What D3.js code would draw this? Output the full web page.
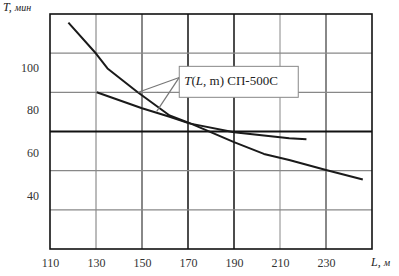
<!DOCTYPE html>
<html>
<head>
<meta charset="utf-8">
<script src="https://cdn.jsdelivr.net/npm/d3@7"></script>
<style>
  body { margin: 0; background: #fff; }
  svg { display: block; }
  .tick text { font-family: "Liberation Serif", serif; font-size: 12px; fill: #333; }
</style>
</head>
<body>
<script>
// Chart values
const xTicks = [110, 130, 150, 170, 190, 210, 230];
const yTicks = [40, 60, 80, 100];

// Steeper curve
const steepL = [118, 130, 135, 148, 162, 170.5, 190, 203, 214, 230, 246];
const steepT = [121, 106.5, 99.5, 88.5, 77.5, 74, 65, 59.5, 56.7, 52, 47.5];

// Flatter curve
const flatL = [130.3, 150, 162, 170.5, 190, 214, 221.5];
const flatT = [88.4, 80.9, 76.9, 73.8, 69.6, 66.8, 66.4];

const labelText = "СП-500С";

// SVG dimensions
const width = 399, height = 276;
const padL = 50, padR = 372, padT = 14, padB = 249;

const svg = d3.select("body").append("svg")
    .attr("width", width)
    .attr("height", height);

const x = d3.scaleLinear().domain([110, 250]).range([padL, padR]);
const y = d3.scaleLinear().domain([15, 125]).range([padB, padT]);

// Grid: six equal rows, verticals every 20
const yGrid = d3.range(1, 6).map(k => 15 + k * 110 / 6);
const xGrid = [130, 150, 170, 190, 210, 230];

const grid = svg.append("g");
const vStyle = { 130: ["#777", 1], 150: ["#888", 2], 170: ["#111", 1.5], 190: ["#111", 1.5], 210: ["#888", 1], 230: ["#888", 2] };
grid.selectAll(".vg")
    .data(xGrid)
    .enter().append("line")
    .attr("x1", d => x(d)).attr("x2", d => x(d))
    .attr("y1", padT).attr("y2", padB)
    .attr("stroke", d => vStyle[d][0])
    .attr("stroke-width", d => vStyle[d][1]);

grid.selectAll(".hg")
    .data(yGrid)
    .enter().append("line")
    .attr("x1", padL).attr("x2", padR)
    .attr("y1", d => y(d)).attr("y2", d => y(d))
    .attr("stroke", (d, i) => i === 2 ? "#111" : "#888")
    .attr("stroke-width", (d, i) => i === 2 ? 2 : 1.3);

// Frame
svg.append("rect")
    .attr("x", padL).attr("y", padT)
    .attr("width", padR - padL).attr("height", padB - padT)
    .attr("fill", "none")
    .attr("stroke", "#111")
    .attr("stroke-width", 1.6);

// Axes
const xAxis = svg.append("g")
    .attr("transform", `translate(0, ${padB})`)
    .call(d3.axisBottom(x).tickValues(xTicks).tickSize(0).tickPadding(9).tickFormat(d3.format("d")));
xAxis.select(".domain").remove();

const yAxis = svg.append("g")
    .attr("transform", `translate(${padL - 11}, 0)`)
    .call(d3.axisLeft(y).tickValues(yTicks).tickSize(0).tickPadding(0).tickFormat(d3.format("d")));
yAxis.select(".domain").remove();

// Curves
const line = d3.line()
    .x(d => x(d[0]))
    .y(d => y(d[1]));

const steep = steepL.map((v, i) => [v, steepT[i]]);
const flat = flatL.map((v, i) => [v, flatT[i]]);

[steep, flat].forEach(data => {
    svg.append("path")
        .datum(data)
        .attr("fill", "none")
        .attr("stroke", "#1a1a1a")
        .attr("stroke-width", 2)
        .attr("stroke-linejoin", "round")
        .attr("d", line);
});

// Annotation box with leader lines
const boxL = 166.2, boxT = 100.5, boxB = 86;
const anchor = [166.2, 95.3];
const targets = [[148.4, 88.4], [156.4, 79.4]];

svg.selectAll(".leader")
    .data(targets)
    .enter().append("line")
    .attr("x1", x(anchor[0])).attr("y1", y(anchor[1]))
    .attr("x2", d => x(d[0])).attr("y2", d => y(d[1]))
    .attr("stroke", "#777")
    .attr("stroke-width", 1.2);

svg.append("rect")
    .attr("x", x(boxL)).attr("y", y(boxT))
    .attr("width", 119).attr("height", y(boxB) - y(boxT))
    .attr("fill", "#fff")
    .attr("stroke", "#888")
    .attr("stroke-width", 1);

const label = svg.append("text")
    .attr("x", x(boxL) + 5).attr("y", y(boxT) + 19)
    .attr("font-family", "Liberation Serif, serif")
    .attr("font-size", 13)
    .attr("fill", "#222");
label.append("tspan").attr("font-style", "italic").text("T");
label.append("tspan").text("(");
label.append("tspan").attr("font-style", "italic").text("L");
label.append("tspan").text(", m) " + labelText);

// Axis titles
const tTitle = svg.append("text")
    .attr("x", 3).attr("y", 11)
    .attr("font-family", "Liberation Serif, serif")
    .attr("font-size", 12)
    .attr("fill", "#222");
tTitle.append("tspan").attr("font-style", "italic").text("T, ");
tTitle.append("tspan").attr("font-style", "italic").attr("font-size", 10).text("мин");

const lTitle = svg.append("text")
    .attr("x", x(250) - 1).attr("y", 266)
    .attr("font-family", "Liberation Serif, serif")
    .attr("font-size", 12)
    .attr("fill", "#222");
lTitle.append("tspan").attr("font-style", "italic").text("L, ");
lTitle.append("tspan").attr("font-style", "italic").attr("font-size", 10).text("м");
</script>
</body>
</html>
